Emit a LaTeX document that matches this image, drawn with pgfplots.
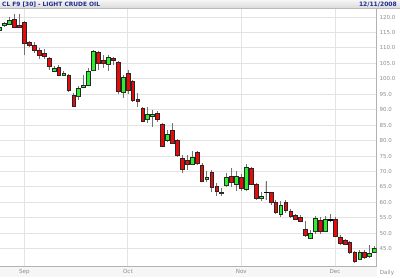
\documentclass[border=0pt]{standalone}
\usepackage{pgfplots}
\pgfplotsset{compat=1.18}
\usepackage{pgfplotstable}
\usepgfplotslibrary{statistics}
\usepackage{fontspec}
\setmainfont{DejaVu Sans}
\definecolor{cup}{RGB}{45,238,45}
\definecolor{cdn}{RGB}{235,10,10}
\definecolor{hdr}{RGB}{30,45,140}
\definecolor{lbl}{RGB}{140,140,140}
\pgfplotsset{
  candleup/.style={draw=black!85, fill=cup},
  candledn/.style={draw=black!85, fill=cdn},
  candledj/.style={draw=black, fill=black},
}
% k: 1 = up (green), 0 = down (red), 2 = doji (black)
\pgfplotstableread{
i O H L C k
-5 115.6 117.3 114.7 116.6 1
-4 117.2 118.4 117.0 118.0 1
-3 117.8 120.1 117.7 119.0 1
-2 119.4 121.1 116.4 116.8 0
-1 117.5 121.0 116.3 116.7 0
0 118.2 118.6 107.6 111.5 0
1 111.8 112.2 110.3 110.8 0
2 111.0 111.8 108.5 109.3 0
3 109.3 110.1 106.5 107.6 0
4 108.2 109.5 106.3 107.3 0
5 106.8 107.2 103.0 104.0 0
6 102.6 104.2 102.2 103.3 1
7 103.9 104.5 100.8 101.3 0
8 101.2 102.4 100.8 101.9 1
9 101.3 101.6 95.9 96.2 0
10 94.6 95.5 90.9 91.1 0
11 94.2 97.7 93.2 96.9 1
12 97.4 101.3 96.9 97.9 1
13 98.0 103.5 97.6 102.6 1
14 102.7 109.3 102.4 108.8 1
15 108.7 109.1 103.0 105.0 0
16 106.1 107.8 103.5 104.9 0
17 104.6 107.8 102.5 107.1 1
18 106.8 107.2 104.5 105.9 0
19 105.2 105.8 95.0 96.0 0
20 95.5 101.2 93.7 100.5 1
21 101.9 102.9 95.0 96.2 0
22 99.3 99.6 92.5 92.9 0
23 93.4 95.3 91.0 92.6 0
24 90.5 91.0 86.1 86.4 0
25 86.9 91.0 85.6 88.5 1
26 88.0 89.9 84.5 88.6 1
27 88.8 89.5 86.0 86.9 0
28 85.3 85.6 77.8 78.3 0
29 80.2 83.4 79.6 82.1 1
30 83.2 85.6 78.8 79.1 0
31 80.0 80.4 74.8 75.3 0
32 74.3 75.3 69.4 70.8 0
33 73.5 75.3 70.5 72.3 0
34 72.4 76.5 72.1 74.6 1
35 76.1 76.5 72.0 72.6 0
36 72.1 72.6 66.5 66.9 0
37 67.5 70.0 66.7 68.1 1
38 69.7 70.5 63.5 64.9 0
39 65.3 66.2 61.9 63.7 0
40 62.8 64.6 62.1 63.4 1
41 65.4 69.4 64.9 68.0 1
42 68.6 71.0 64.9 66.5 0
43 66.0 70.1 63.6 68.4 1
44 68.1 69.2 63.8 64.5 0
45 64.4 72.5 63.6 71.4 1
46 71.1 71.6 65.5 66.0 0
47 66.0 66.3 60.8 61.2 0
48 61.2 63.5 60.5 62.0 1
49 63.2 66.8 60.8 63.3 2
50 63.2 63.5 59.3 60.1 0
51 60.0 60.8 56.2 56.8 0
52 56.3 60.3 55.4 59.2 1
53 60.2 60.9 56.5 57.6 0
54 57.2 58.0 55.0 55.4 0
55 55.7 56.3 54.2 54.6 0
56 55.2 55.9 53.5 54.0 0
57 51.4 54.0 48.8 49.2 0
58 48.4 51.0 48.0 50.1 1
59 50.5 55.5 49.9 54.7 1
60 54.3 55.2 49.9 50.5 0
61 50.6 55.5 50.3 54.6 1
62 54.3 56.2 53.6 54.5 2
63 54.6 55.4 48.7 49.1 0
64 48.7 49.5 46.3 46.8 0
65 47.6 48.0 46.2 46.5 0
66 47.1 47.6 43.3 43.7 0
67 43.7 44.4 40.3 40.8 0
68 41.6 44.5 41.3 43.7 1
69 44.0 44.6 41.6 42.2 0
70 42.4 46.3 42.2 43.5 1
71 44.0 45.8 43.5 45.3 1
}\candles
\pgfplotstablegetrowsof{\candles}
\pgfmathtruncatemacro\lastrow{\pgfplotsretval-1}
\begin{document}
\begin{tikzpicture}
\path[use as bounding box] (0,0) rectangle (400pt,277pt);
\fill[gray!7] (0,0) rectangle (376.5pt,11pt);
\begin{axis}[
  at={(0pt,11pt)}, anchor=south west,
  scale only axis, width=376.5pt, height=257pt,
  xmin=-4.93, xmax=71.41, ymin=39.4, ymax=122.6,
  axis x line*=bottom, axis y line*=right,
  axis line style={draw=gray!60, line width=0.8pt},
  major tick length=0pt,
  grid=major, major grid style={draw=gray!22, line width=0.9pt},
  xtick={0,21,44,63}, xticklabels={Sep,Oct,Nov,Dec},
  ytick={45,50,...,120},
  /pgf/number format/assume math mode=true,
  yticklabel style={font=\fontsize{5.5}{6}\selectfont, text=lbl, anchor=west, inner sep=0pt, xshift=3pt,
    /pgf/number format/fixed, /pgf/number format/fixed zerofill, /pgf/number format/precision=1},
  xticklabel style={font=\fontsize{5.6}{6}\selectfont, text=lbl, anchor=north, inner sep=0pt, yshift=-3.5pt},
  boxplot/draw direction=y,
  boxplot/box extend=0.76,
  boxplot/whisker extend=0,
  boxplot/every whisker/.style={draw=black!55, line width=0.7pt},
  boxplot/every box/.style={line width=0.5pt},
  boxplot/every median/.style={draw=none},
]
\pgfplotsforeachungrouped \r in {0,...,\lastrow} {
  \pgfplotstablegetelem{\r}{i}\of\candles \let\ci\pgfplotsretval
  \pgfplotstablegetelem{\r}{O}\of\candles \let\co\pgfplotsretval
  \pgfplotstablegetelem{\r}{H}\of\candles \let\ch\pgfplotsretval
  \pgfplotstablegetelem{\r}{L}\of\candles \let\cl\pgfplotsretval
  \pgfplotstablegetelem{\r}{C}\of\candles \let\cc\pgfplotsretval
  \pgfplotstablegetelem{\r}{k}\of\candles \let\ck\pgfplotsretval
  \ifdim\cc pt<\co pt \let\lo\cc \let\hi\co \else \let\lo\co \let\hi\cc \fi
  \ifcase\ck\relax \def\col{candledn}\or \def\col{candleup}\else \def\col{candledj}\fi
  \edef\doit{\noexpand\addplot[\col, boxplot prepared={draw position=\ci, lower whisker=\cl, lower quartile=\lo, median=\lo, upper quartile=\hi, upper whisker=\ch}] coordinates {};}
  \doit
}
\end{axis}
\shade[top color=gray!8, bottom color=gray!30] (0,268.3pt) rectangle (400pt,277pt);
\draw[gray!55, line width=0.8pt] (0,268.3pt) -- (400pt,268.3pt);
\node[anchor=west, font=\bfseries\fontsize{5.9}{6}\selectfont, text=hdr, inner sep=0pt] at (2pt,272.4pt) {CL F9 [30] - LIGHT CRUDE OIL};
\node[anchor=east, font=\bfseries\fontsize{6}{6}\selectfont, text=hdr, inner sep=0pt] at (397pt,272.4pt) {12/11/2008};
\node[font=\fontsize{5.6}{6}\selectfont, text=lbl, inner sep=0pt] at (387pt,4.3pt) {Daily};
\end{tikzpicture}
\end{document}
